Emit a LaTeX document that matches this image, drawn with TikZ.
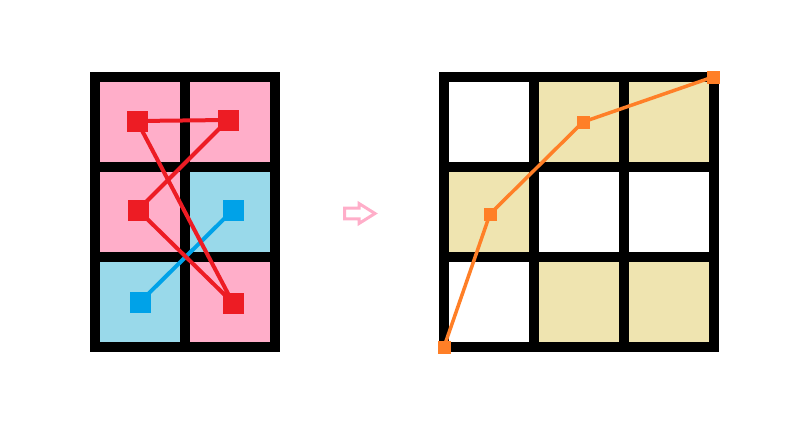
\documentclass[tikz,border=0pt]{standalone}
\usetikzlibrary{positioning}
\definecolor{cellpink}{RGB}{255,174,201}
\definecolor{cellblue}{RGB}{153,217,234}
\definecolor{cellsand}{RGB}{239,228,176}
\definecolor{mred}{RGB}{237,28,36}
\definecolor{mblue}{RGB}{0,162,232}
\definecolor{morange}{RGB}{255,127,39}
\tikzset{cell/.style={rectangle,minimum size=80pt,inner sep=0pt,outer sep=0pt}}
\tikzset{bigdot/.style={rectangle,inner sep=0pt,minimum size=21pt,fill=#1}}
\tikzset{smalldot/.style={rectangle,inner sep=0pt,minimum size=13pt,fill=morange}}
\tikzset{hint/.style={draw=cellpink,fill=white,line width=3pt,line join=miter}}

\begin{document}
\begin{tikzpicture}[x=1pt,y=-1pt]
  \useasboundingbox (0,0) rectangle (788,442);
  % left board
  \fill[black] (90,72) rectangle (280,352);
  \foreach \c/\r/\col in {0/0/cellpink,1/0/cellpink,0/1/cellpink,1/1/cellblue,0/2/cellblue,1/2/cellpink}
    \node[cell,fill=\col] (left\c\r) at (140+90*\c,122+90*\r) {};
  \node[bigdot=mblue] (blueA) at (233,210) {};
  \node[bigdot=mblue] (blueB) at (140,302) {};
  \draw[mblue,line width=4pt] (blueA.center) -- (blueB.center);
  \node[bigdot=mred] (redA) at (137,121) {};
  \node[bigdot=mred] (redB) at (228,120) {};
  \node[bigdot=mred] (redC) at (138,210) {};
  \node[bigdot=mred] (redD) at (233,303) {};
  \draw[mred,line width=4pt,line join=round] (redA.center) -- (redB.center) -- (redC.center) -- (redD.center) -- cycle;
  % arrow
  \draw[hint] (344.5,208.2) -- (359,208.2) -- (359,203.5) -- (375,213.5) -- (359,223.5) -- (359,218.8) -- (344.5,218.8) -- cycle;
  % right board
  \fill[black] (439,72) rectangle (719,352);
  \foreach \c/\r/\col in {0/0/white,1/0/cellsand,2/0/cellsand,0/1/cellsand,1/1/white,2/1/white,0/2/white,1/2/cellsand,2/2/cellsand}
    \node[cell,fill=\col] (right\c\r) at (489+90*\c,122+90*\r) {};
  \node[smalldot] (pathA) at (444,347) {};
  \node[smalldot] (pathB) at (490,214) {};
  \node[smalldot] (pathC) at (583,122) {};
  \node[smalldot] (pathD) at (713,77) {};
  \draw[morange,line width=3.5pt] (pathA.center) -- (pathB.center) -- (pathC.center) -- (pathD.center);
\end{tikzpicture}
\end{document}
